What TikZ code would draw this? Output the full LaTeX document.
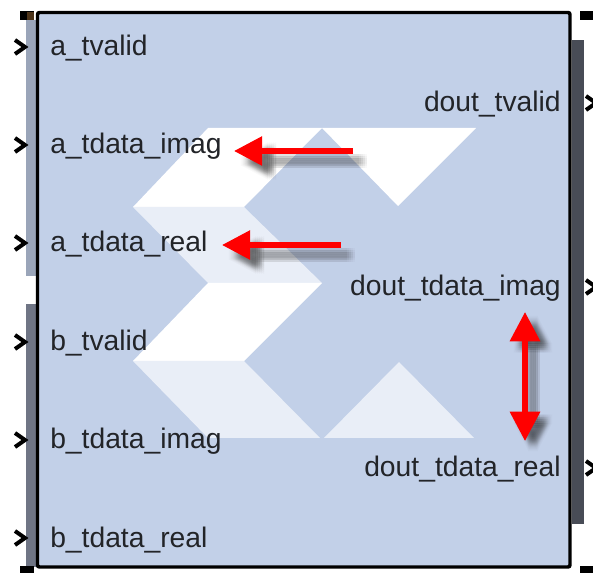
\documentclass[tikz,border=0pt]{standalone}
\usepackage{fontspec}
\setmainfont{Liberation Sans}
\usetikzlibrary{arrows.meta, positioning}

\definecolor{blockblue}{HTML}{C2D0E8}
\definecolor{logolight}{HTML}{E9EEF7}
\definecolor{portlight}{HTML}{9AA5B9}
\definecolor{portmid}{HTML}{6F7585}
\definecolor{portdark}{HTML}{484C56}
\definecolor{labelgray}{HTML}{222428}

\begin{document}
\begin{tikzpicture}[
  x=0.75pt, y=-0.75pt,
  portlabel/.style={font=\fontsize{21.2pt}{25pt}\selectfont, text=labelgray, inner sep=0pt},
  inlabel/.style={portlabel, anchor=base west},
  outlabel/.style={portlabel, anchor=base east},
  chevron/.style={draw=black, line width=3pt, line join=miter},
  pin/.style={fill=black},
  redarrow/.style={{Triangle[length=22pt,width=22pt]}-{Triangle[length=22pt,width=22pt]}, line width=4pt, red},
  redleft/.style={-{Triangle[length=21pt,width=21pt]}, line width=4pt, red},
  shadowcopy/.style={draw=black!80, fill=black!80, opacity=0.028}
]
\useasboundingbox (0,0) rectangle (593,573);

% port bars
\fill[portlight] (26,20) rectangle (37,276);
\fill[portmid] (26,304) rectangle (37,567);
\fill[portdark] (572,40) rectangle (584,524);

% corner pins
\fill[pin] (20,11) rectangle (34,20);
\fill[black!60!brown] (27,12) rectangle (34,20);
\fill[pin] (20,566) rectangle (34,573);
\fill[pin] (580,11) rectangle (593,20);
\fill[pin] (580,566) rectangle (593,573);

% block
\draw[fill=blockblue, line width=2.6pt, rounded corners=1.5pt] (37.5,12.5) rectangle (570,567);

% logo
\fill[white] (208,128) -- (322,128) -- (244,207) -- (133,207) -- cycle;
\fill[white] (322,128) -- (476,128) -- (398,206) -- cycle;
\fill[logolight] (133,207) -- (244,207) -- (322,283) -- (208,283) -- cycle;
\fill[white] (208,283) -- (322,283) -- (244,361) -- (133,361) -- cycle;
\fill[logolight] (133,361) -- (244,361) -- (320,438) -- (208,438) -- cycle;
\fill[logolight] (324,438) -- (474,438) -- (399,362) -- cycle;

% inputs
\foreach \name/\txt/\ypos in {atv/a\_tvalid/47, aim/a\_tdata\_imag/145, are/a\_tdata\_real/243,
                              btv/b\_tvalid/342, bim/b\_tdata\_imag/440, bre/b\_tdata\_real/538} {
  \node[inlabel] (\name) at (50,\ypos+9) {\txt};
  \draw[chevron] (15,\ypos-7) -- (25,\ypos) -- (15,\ypos+7);
}

% outputs
\foreach \name/\txt/\ypos in {dtv/dout\_tvalid/103, dim/dout\_tdata\_imag/287, dre/dout\_tdata\_real/468} {
  \node[outlabel] (\name) at (561,\ypos+9) {\txt};
  \draw[chevron] (586,\ypos-7) -- (596,\ypos) -- (586,\ypos+7);
}

% red arrows
\coordinate (imagtail) at (353,151);
\coordinate (imagtip) at (234,151);
\coordinate (realtail) at (341,245);
\coordinate (realtip) at (222,245);
\coordinate (updown) at (525,312);
\coordinate (downup) at (525,441);

% soft shadows, many faint copies
\foreach \dx in {6,8,10,12,14} {
  \foreach \dy in {6,8,10,12,14} {
    \draw[redleft, shadowcopy] ([shift={(\dx,\dy)}]imagtail) -- ([shift={(\dx,\dy)}]imagtip);
    \draw[redleft, shadowcopy] ([shift={(\dx,\dy)}]realtail) -- ([shift={(\dx,\dy)}]realtip);
    \draw[redarrow, shadowcopy] ([shift={(\dx-2,\dy-3)}]updown) -- ([shift={(\dx-2,\dy-3)}]downup);
  }
}
\draw[redleft] (imagtail) -- (imagtip);
\draw[redleft] (realtail) -- (realtip);
\draw[redarrow] (updown) -- (downup);

\end{tikzpicture}
\end{document}
